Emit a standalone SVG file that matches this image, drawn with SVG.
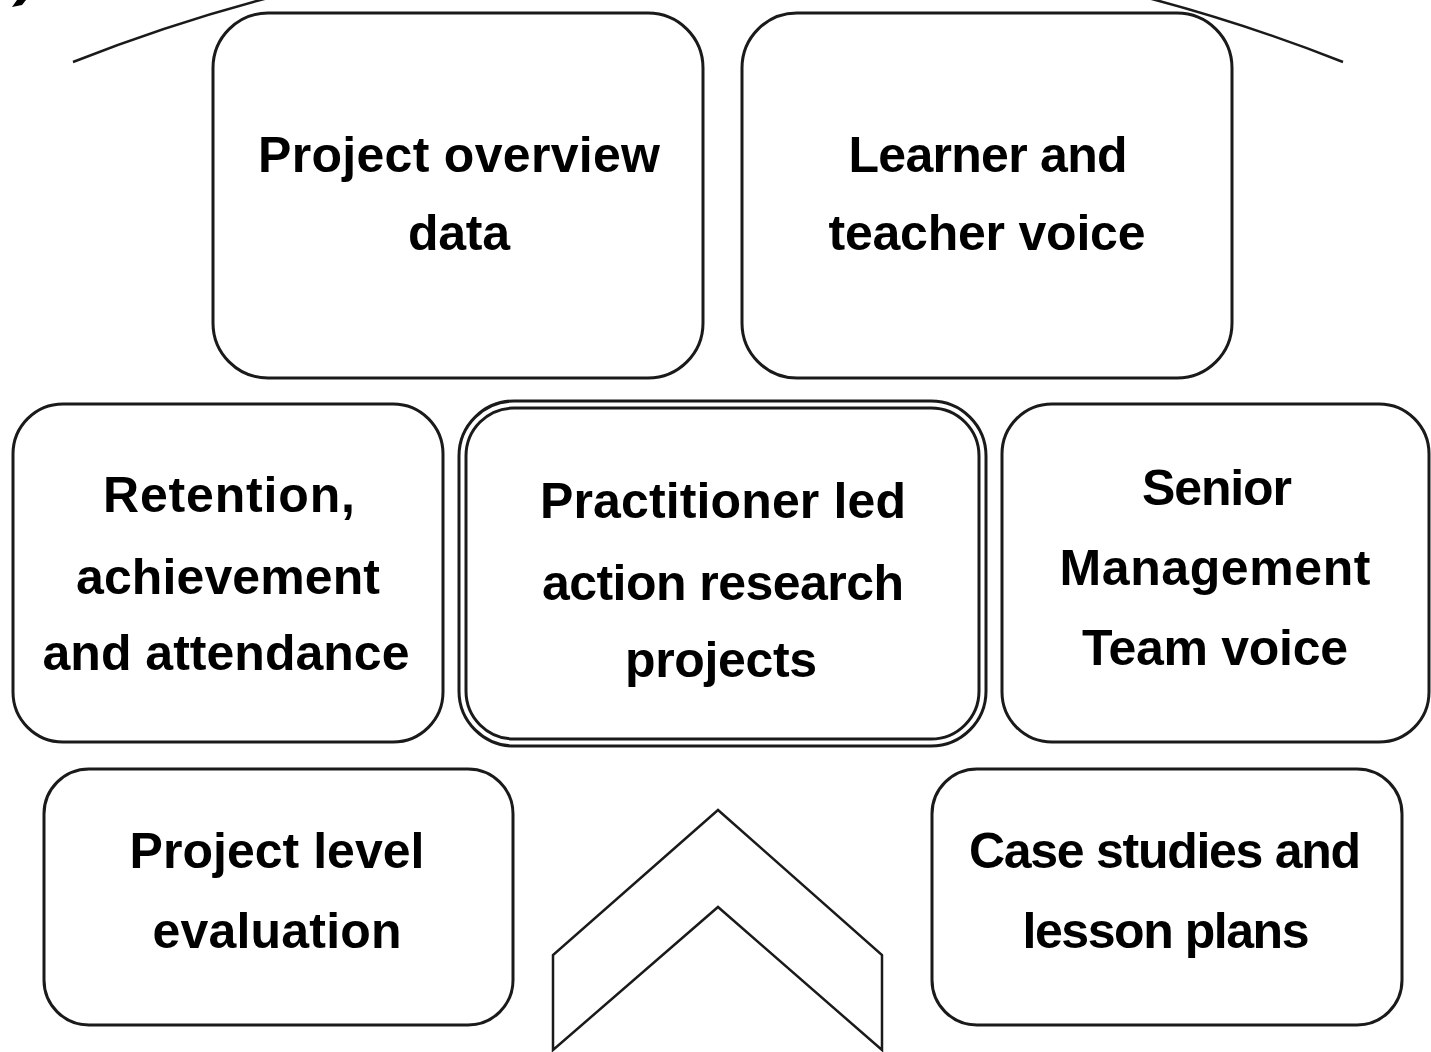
<svg xmlns="http://www.w3.org/2000/svg" width="1431" height="1052" viewBox="0 0 1431 1052">
<style>
.box{fill:#fff;stroke:#1a1a1a;stroke-width:3}
.line{fill:none;stroke:#1a1a1a;stroke-width:2.5}
text{font-family:"Liberation Sans",Arial,sans-serif;font-weight:bold;font-size:50px;fill:#000;text-anchor:middle}
</style>
<rect width="1431" height="1052" fill="#fff"/>
<path d="M12,7 L17,0 L26,0 L22,5 Z" fill="#000"/>
<g id="connectors">
<path class="line" d="M73,62 A1727,1727 0 0 1 1343,62"/>
</g>
<g id="node-overview">
<rect class="box" x="213" y="13" width="490" height="365" rx="55"/>
<text x="459" y="172" textLength="402">Project overview</text>
<text x="459" y="250" textLength="102">data</text>
</g>
<g id="node-voice">
<rect class="box" x="742" y="13" width="490" height="365" rx="55"/>
<text x="988" y="172" textLength="279">Learner and</text>
<text x="987" y="250" textLength="317">teacher voice</text>
</g>
<g id="node-retention">
<rect class="box" x="13" y="404" width="430" height="338" rx="50"/>
<text x="229" y="512" textLength="252">Retention,</text>
<text x="228" y="594" textLength="304">achievement</text>
<text x="226" y="670" textLength="367">and attendance</text>
</g>
<g id="node-center">
<rect class="box" x="459" y="401" width="527" height="345" rx="55"/>
<rect class="box" x="466" y="408" width="513" height="331" rx="48"/>
<text x="723" y="518" textLength="366">Practitioner led</text>
<text x="723" y="600" textLength="362">action research</text>
<text x="721" y="677" textLength="192">projects</text>
</g>
<g id="node-smt">
<rect class="box" x="1002" y="404" width="427" height="338" rx="50"/>
<text x="1217" y="505" textLength="150">Senior</text>
<text x="1215" y="585" textLength="311">Management</text>
<text x="1215" y="665" textLength="266">Team voice</text>
</g>
<g id="node-evaluation">
<rect class="box" x="44" y="769" width="469" height="256" rx="45"/>
<text x="277" y="868" textLength="295">Project level</text>
<text x="277" y="948" textLength="249">evaluation</text>
</g>
<g id="node-cases">
<rect class="box" x="932" y="769" width="470" height="256" rx="45"/>
<text x="1165" y="868" textLength="392">Case studies and</text>
<text x="1166" y="948" textLength="287">lesson plans</text>
</g>
<g id="node-chevron">
<path class="line" d="M718,810 L553,955 L553,1050 L718,907 L882,1050 L882,955 Z" stroke-linejoin="miter"/>
</g>
</svg>
